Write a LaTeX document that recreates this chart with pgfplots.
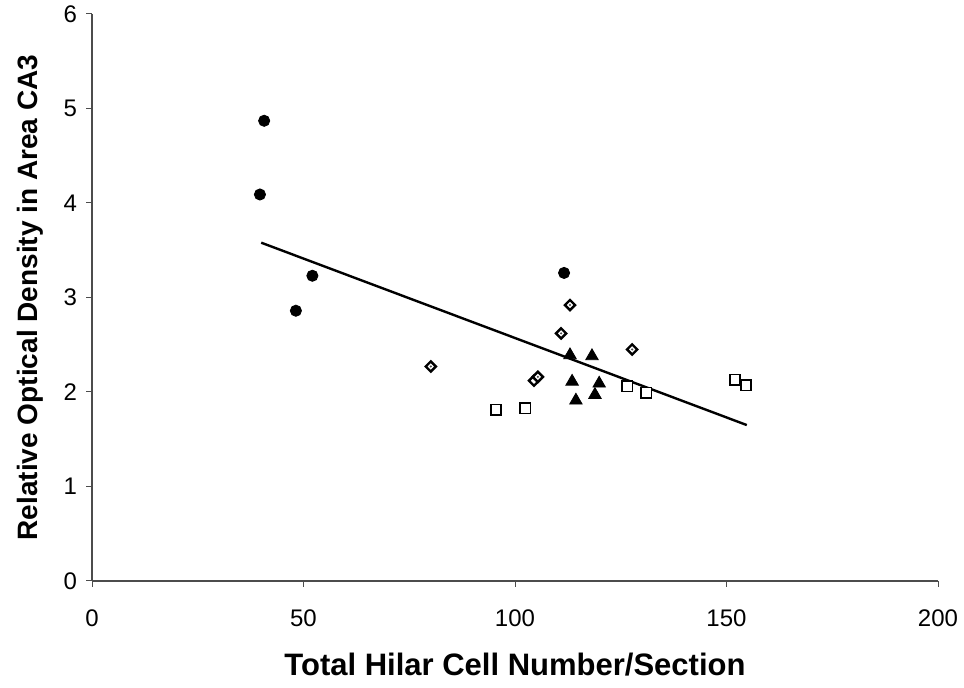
\documentclass[border=0pt]{standalone}
\usepackage{fontspec}
\setmainfont{Liberation Sans}
\usepackage{pgfplots}
\pgfplotsset{compat=1.18}
\begin{document}
\begin{tikzpicture}
\path[use as bounding box] (0,0) rectangle (482pt,344pt);
\begin{axis}[
  at={(46pt,53.5pt)}, anchor=south west,
  scale only axis, width=423pt, height=283.5pt,
  xmin=0, xmax=200, ymin=0, ymax=6,
  xtick={0,50,100,150,200}, ytick={0,1,2,3,4,5,6},
  axis lines=left, axis line style={-, line width=0.6pt, black!70},
  tick style={black!70, line width=0.5pt}, tick align=outside, major tick length=3pt,
  /pgf/number format/assume math mode=true,
  ticklabel style={font=\fontsize{12}{14}\selectfont},
  xticklabel style={yshift=-8pt},
  yticklabel style={xshift=-1pt},
  xlabel={\textbf{Total Hilar Cell Number/Section}},
  ylabel={\textbf{Relative Optical Density in Area CA3}},
  xlabel style={font=\fontsize{15.5}{17}\selectfont, at={(axis description cs:0.5,-0.148)}, anchor=center},
  ylabel style={font=\fontsize{14}{16}\selectfont, at={(axis description cs:-0.073,0.5)}, anchor=center, rotate=0},
  clip=false,
]
% regression line
\addplot[black, line width=1.2pt, no marks] coordinates {(40,3.58) (154.8,1.65)};
% filled circles
\addplot[only marks, mark=*, mark size=2.8pt, black] coordinates {
(40.7,4.87) (39.7,4.09) (52.1,3.23) (48.2,2.86) (111.6,3.26)};
% diamonds
\addplot[only marks, mark=square*, mark size=1.8pt, mark options={rotate=45, fill=white, draw=black, line width=1.2pt}] coordinates {
(113.0,2.92) (110.9,2.62) (127.7,2.45) (80.1,2.27) (104.5,2.12) (105.4,2.16)};
\addplot[only marks, mark=*, mark size=0.3pt, black!70] coordinates {
(113.0,2.92) (110.9,2.62) (127.7,2.45) (80.1,2.27) (105.4,2.16)};
% triangles
\addplot[only marks, mark=triangle*, mark size=3.6pt, black] coordinates {
(113.0,2.39) (118.2,2.38) (113.5,2.11) (119.9,2.09) (118.9,1.97) (114.4,1.91)};
% squares
\addplot[only marks, mark=square*, mark size=2.6pt, mark options={fill=white, draw=black, line width=0.75pt}] coordinates {
(95.5,1.81) (102.4,1.83) (126.5,2.06) (131.0,1.99) (152.0,2.13) (154.6,2.07)};
\end{axis}
\end{tikzpicture}
\end{document}
